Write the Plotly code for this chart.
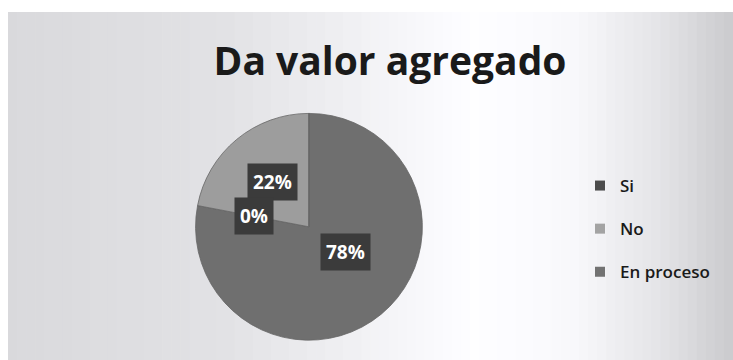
import math
import plotly.graph_objects as go

# Survey answers for "Da valor agregado"
categories = ["Si", "No", "En proceso"]
shares = [78, 22, 0]
slice_colors = ["#6f6f6f", "#9d9d9d", "#858585"]
legend_colors = ["#4c4c4c", "#a3a3a3", "#727272"]
title_text = "Da valor agregado"

W, H = 733, 360

# pie placement (paper fractions)
pie_dom_x = [0.264, 0.579]
pie_dom_y = [0.055, 0.685]

# horizontal shading of the grey panel: (position across panel, grey level)
shade_stops = [(0.0, 217), (0.3, 226), (0.5, 242), (0.64, 254),
               (0.78, 248), (0.9, 228), (1.0, 202)]


def grey_at(t):
    for (t0, g0), (t1, g1) in zip(shade_stops, shade_stops[1:]):
        if t0 <= t <= t1:
            return g0 + (g1 - g0) * (t - t0) / (t1 - t0)
    return shade_stops[-1][1]


fig = go.Figure()

panel_x0, panel_x1, panel_top = 8 / W, 1.0, 1 - 12 / H
n_strips = 80
shapes = []
for i in range(n_strips):
    a = panel_x0 + (panel_x1 - panel_x0) * i / n_strips
    b = panel_x0 + (panel_x1 - panel_x0) * (i + 1) / n_strips
    g = int(round(grey_at((i + 0.5) / n_strips)))
    shapes.append(dict(type="rect", xref="paper", yref="paper", layer="below",
                       x0=a, x1=b + 0.001, y0=0, y1=panel_top, line=dict(width=0),
                       fillcolor=f"rgb({g},{g},{min(255, g + 3)})"))

fig.add_trace(go.Pie(
    labels=categories, values=shares, sort=False, direction="clockwise",
    rotation=0, marker=dict(colors=slice_colors, line=dict(color="#666666", width=0.8)),
    textinfo="none", hoverinfo="label+percent", showlegend=False,
    domain=dict(x=pie_dom_x, y=pie_dom_y),
))

# legend entries (one group each so they can be spaced apart)
for name, col in zip(categories, legend_colors):
    fig.add_trace(go.Scatter(
        x=[None], y=[None], mode="markers", name=name, legendgroup=name,
        marker=dict(symbol="square", size=10, color=col),
    ))

# percentage labels on dark boxes, placed along each slice's mid-angle
cx = (pie_dom_x[0] + pie_dom_x[1]) / 2 * W
cy = (1 - (pie_dom_y[0] + pie_dom_y[1]) / 2) * H
radius = min((pie_dom_x[1] - pie_dom_x[0]) * W, (pie_dom_y[1] - pie_dom_y[0]) * H) / 2
total = sum(shares)
cum = 0.0
si_end = shares[0] / total * 360
for name, v in zip(categories, shares):
    frac = v / total
    if v == 0:
        ang = si_end  # empty slice labelled at the Si/No edge
        dist = 0.49 * radius
    else:
        ang = (cum + frac / 2) * 360
        dist = 0.51 * radius
    cum += frac
    px = cx + dist * math.sin(math.radians(ang))
    py = cy - dist * math.cos(math.radians(ang))
    fig.add_annotation(
        x=px / W, y=1 - py / H, xref="paper", yref="paper",
        text=f"<b>{v}%</b>", showarrow=False,
        font=dict(family="Open Sans", size=19, color="white"),
        bgcolor="#3b3b3b", borderpad=5,
    )

fig.update_layout(
    width=W, height=H, margin=dict(l=0, r=0, t=0, b=0),
    paper_bgcolor="white", plot_bgcolor="rgba(0,0,0,0)",
    shapes=shapes,
    xaxis=dict(visible=False, range=[0, 1], domain=[0, 1], fixedrange=True),
    yaxis=dict(visible=False, range=[0, 1], domain=[0, 1], fixedrange=True),
    title=dict(text=f"<b>{title_text}</b>", x=390 / W, xanchor="center",
               y=1 - 61 / H, yanchor="middle",
               font=dict(family="Open Sans", size=39, color="#1a1a1a")),
    legend=dict(x=580 / W, y=1 - 168 / H, xanchor="left", yanchor="top",
                bgcolor="rgba(0,0,0,0)", tracegroupgap=18, itemwidth=30,
                font=dict(family="Open Sans", size=17, color="#1a1a1a", weight=600)),
    showlegend=True,
)

fig.write_html("out.html")
